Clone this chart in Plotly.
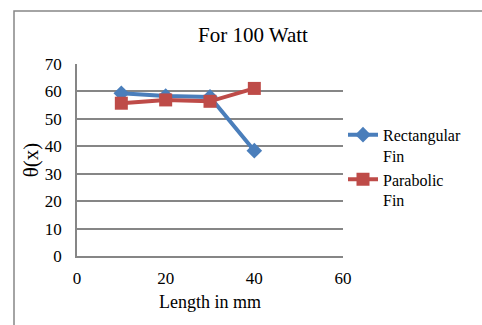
import plotly.graph_objects as go

length_mm = [10, 20, 30, 40]
rectangular_fin = [59.3, 58.3, 58.0, 38.4]
parabolic_fin = [55.7, 56.9, 56.4, 61.1]
x_ticks = [0, 20, 40, 60]
y_ticks = [0, 10, 20, 30, 40, 50, 60, 70]

font = "Liberation Serif"

fig = go.Figure()
fig.add_trace(go.Scatter(
    x=length_mm, y=rectangular_fin, mode="lines+markers",
    name="Rectangular<br>Fin",
    line=dict(color="#4A7EBB", width=4),
    marker=dict(symbol="diamond", size=12, color="#4A7EBB"),
))
fig.add_trace(go.Scatter(
    x=length_mm, y=parabolic_fin, mode="lines+markers",
    name="Parabolic<br>Fin",
    line=dict(color="#BE4B48", width=4),
    marker=dict(symbol="square", size=13, color="#BE4B48"),
))

fig.update_layout(
    width=482, height=325,
    margin=dict(l=77, r=139, t=64, b=69),
    paper_bgcolor="white", plot_bgcolor="white",
    font=dict(family=font, size=17, color="black"),
    title=dict(text="For 100 Watt", x=253 / 482, xanchor="center",
               y=1 - 35 / 325, yanchor="middle",
               font=dict(family=font, size=21, color="black")),
    xaxis=dict(range=[0, 60], tickvals=x_ticks, showgrid=False,
               showline=True, linecolor="#868686", linewidth=1.5,
               zeroline=False, ticks="outside", ticklen=6,
               tickcolor="rgba(0,0,0,0)",
               tickfont=dict(family=font, size=17),
               title=dict(text="Length in mm", standoff=8,
                          font=dict(family=font, size=18))),
    yaxis=dict(range=[0, 70], tickvals=y_ticks, showgrid=True,
               gridcolor="#868686", gridwidth=1.5,
               showline=True, linecolor="#868686", linewidth=1.5,
               zeroline=False, ticks="outside", ticklen=10,
               tickcolor="rgba(0,0,0,0)",
               tickfont=dict(family=font, size=17),
               title=dict(text="θ(x)", standoff=0,
                          font=dict(family=font, size=21))),
    legend=dict(x=1.0, xanchor="left", y=0.72, yanchor="top",
                valign="top",
                font=dict(family=font, size=16), tracegroupgap=0,
                bgcolor="rgba(0,0,0,0)"),
    shapes=[dict(type="rect", xref="paper", yref="paper",
                 x0=(14 - 77) / 266, x1=2.0,
                 y0=-1.0, y1=(256 - 11) / 192,
                 line=dict(color="#868686", width=1.5),
                 fillcolor="rgba(0,0,0,0)", layer="below")],
)

fig.write_html("out.html")
